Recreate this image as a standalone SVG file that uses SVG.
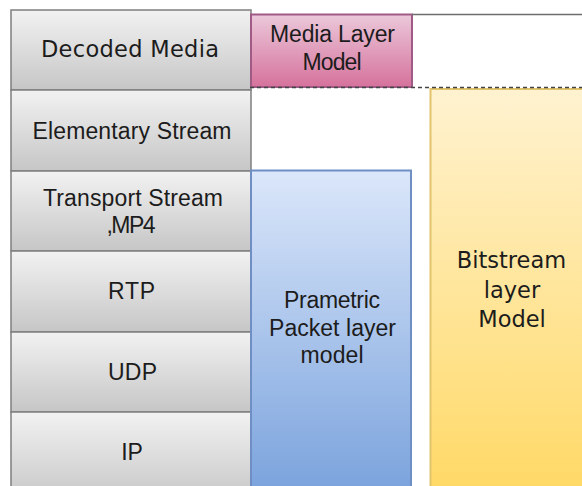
<svg xmlns="http://www.w3.org/2000/svg" width="582" height="486" viewBox="0 0 582 486">
  <defs>
    <linearGradient id="gGray" x1="0" y1="0" x2="0" y2="1">
      <stop offset="0" stop-color="#f2f2f2"/>
      <stop offset="1" stop-color="#c6c6c6"/>
    </linearGradient>
    <linearGradient id="gPink" x1="0" y1="0" x2="0" y2="1">
      <stop offset="0" stop-color="#ebc8da"/>
      <stop offset="1" stop-color="#d6729c"/>
    </linearGradient>
    <linearGradient id="gBlue" x1="0" y1="0" x2="0" y2="1">
      <stop offset="0" stop-color="#dbe7fa"/>
      <stop offset="1" stop-color="#78a1dc"/>
    </linearGradient>
    <linearGradient id="gYellow" x1="0" y1="0" x2="0" y2="1">
      <stop offset="0" stop-color="#fff2d0"/>
      <stop offset="1" stop-color="#ffd862"/>
    </linearGradient>
  </defs>
  <style>
    .layer { fill: url(#gGray); stroke: #7f7f7f; stroke-width: 1.5; }
    .t { font-family: "Liberation Sans", Arial, sans-serif; font-size: 23px; fill: #1c1c1c; text-anchor: middle; }
    .v { font-family: "DejaVu Sans", Verdana, sans-serif; font-size: 22.5px; fill: #1c1c1c; text-anchor: middle; }
  </style>
  <rect width="582" height="486" fill="#ffffff"/>

  <!-- protocol stack -->
  <g id="decoded-media">
    <rect class="layer" x="11" y="10" width="240" height="80"/>
    <text class="v" x="130" y="57" textLength="178" lengthAdjust="spacing">Decoded Media</text>
  </g>
  <g id="elementary-stream">
    <rect class="layer" x="11" y="90" width="240" height="81"/>
    <text class="t" x="132" y="138.5" textLength="199" lengthAdjust="spacing">Elementary Stream</text>
  </g>
  <g id="transport-stream">
    <rect class="layer" x="11" y="171" width="240" height="80"/>
    <text class="t" x="133" y="206" textLength="180" lengthAdjust="spacing">Transport Stream</text>
    <text class="t" x="131" y="233" textLength="49" lengthAdjust="spacing">,MP4</text>
  </g>
  <g id="rtp">
    <rect class="layer" x="11" y="251" width="240" height="81"/>
    <text class="t" x="131.5" y="299" textLength="47" lengthAdjust="spacing">RTP</text>
  </g>
  <g id="udp">
    <rect class="layer" x="11" y="332" width="240" height="80"/>
    <text class="t" x="132.5" y="379.5" textLength="49" lengthAdjust="spacing">UDP</text>
  </g>
  <g id="ip">
    <rect class="layer" x="11" y="412" width="240" height="90"/>
    <text class="t" x="132" y="459.5">IP</text>
  </g>

  <!-- model boxes -->
  <g id="bitstream-model">
    <rect x="430.5" y="89" width="170" height="420" fill="url(#gYellow)" stroke="#e2c46c" stroke-width="2"/>
    <text class="v" x="511.5" y="268">Bitstream</text>
    <text class="v" x="512" y="297.5">layer</text>
    <text class="v" x="512" y="326.5">Model</text>
  </g>
  <g id="packet-model">
    <rect x="251" y="170.5" width="160" height="330" fill="url(#gBlue)" stroke="#6f8fc4" stroke-width="2"/>
    <text class="t" x="332" y="307.5" textLength="96" lengthAdjust="spacing">Prametric</text>
    <text class="t" x="332.5" y="335.5" textLength="127" lengthAdjust="spacing">Packet layer</text>
    <text class="t" x="332" y="362.5" textLength="63" lengthAdjust="spacing">model</text>
  </g>
  <g id="media-model">
    <rect x="251" y="14.5" width="161" height="72.5" fill="url(#gPink)" stroke="#a05a86" stroke-width="2"/>
    <text class="t" x="332.5" y="42" textLength="125" lengthAdjust="spacing">Media Layer</text>
    <text class="t" x="332" y="70" textLength="59" lengthAdjust="spacing">Model</text>
  </g>

  <!-- boundary lines -->
  <g id="connectors" fill="none">
    <line x1="412" y1="14.5" x2="582" y2="14.5" stroke="#6e6e6e" stroke-width="1.5"/>
    <line x1="250" y1="87.5" x2="582" y2="87.5" stroke="#444444" stroke-width="1.5" stroke-dasharray="4 3"/>
  </g>
</svg>
